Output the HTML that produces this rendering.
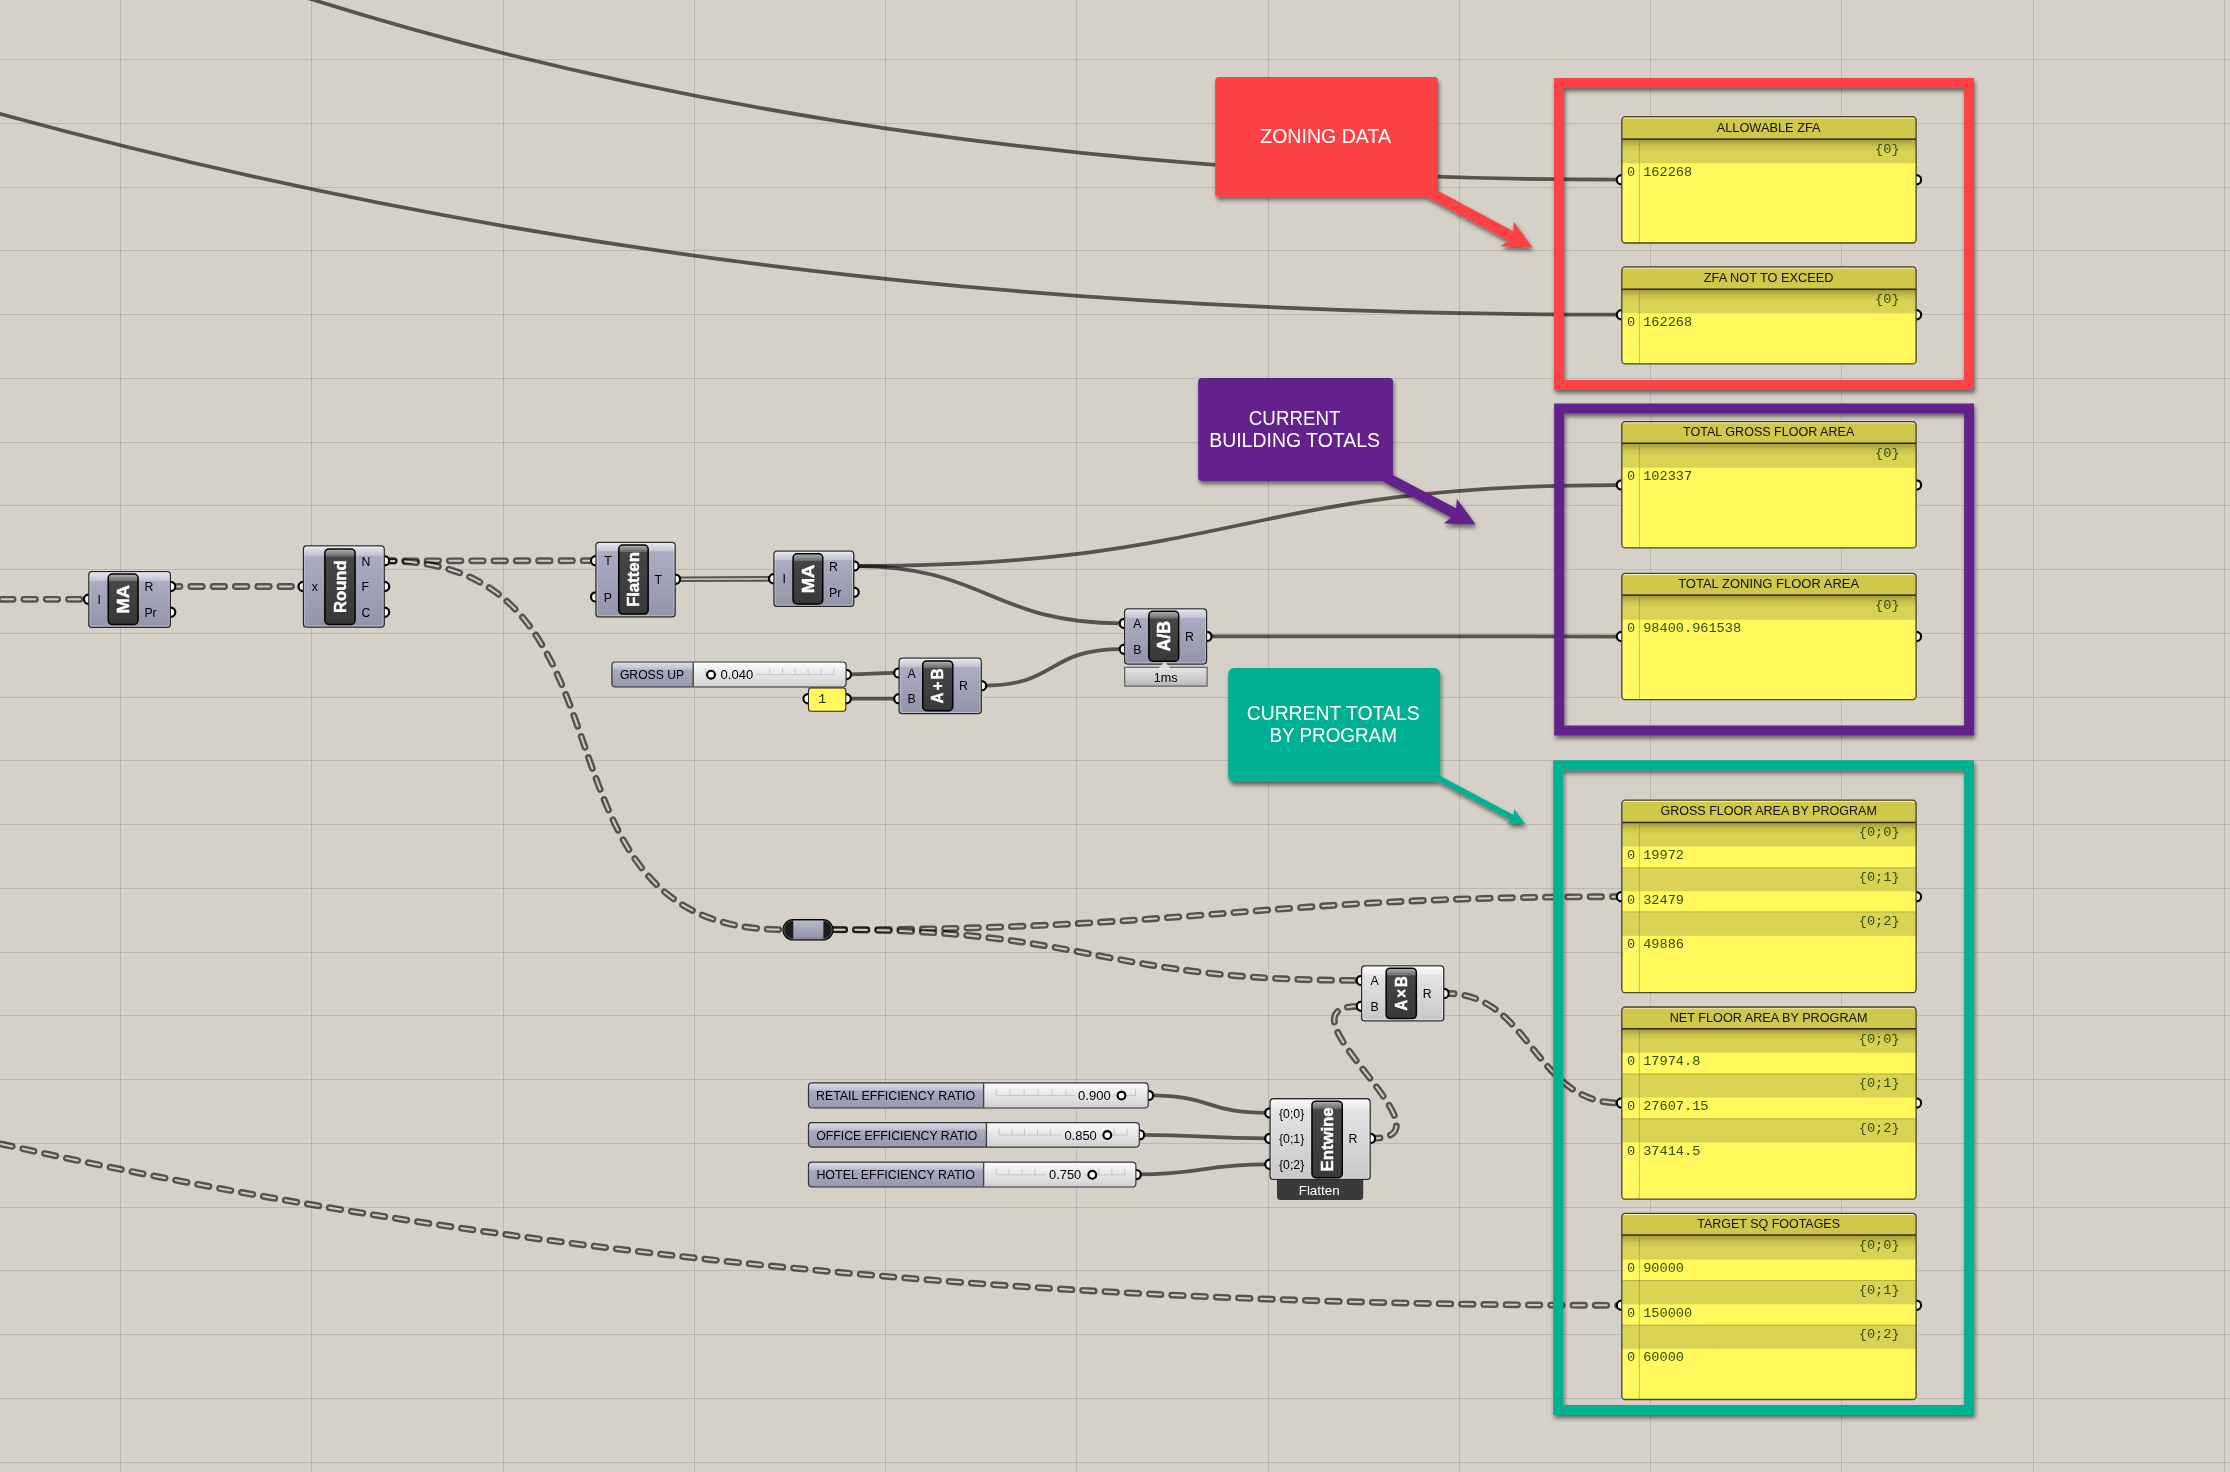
<!DOCTYPE html>
<html lang="en"><head><meta charset="utf-8"><title>Grasshopper canvas</title>
<style>
html,body{margin:0;padding:0;background:#d5d1c9;}
body{width:2230px;height:1472px;overflow:hidden;}
svg{display:block;will-change:transform;}
text{white-space:pre;}
</style></head><body>
<svg width="2230" height="1472" viewBox="0 0 2230 1472">
<defs>
<linearGradient id="gDark" x1="0" y1="0" x2="0" y2="1">
 <stop offset="0" stop-color="#e9e9f0"/><stop offset="0.16" stop-color="#c3c3d3"/>
 <stop offset="0.17" stop-color="#ababc1"/><stop offset="1" stop-color="#9393a9"/>
</linearGradient>
<linearGradient id="gDarkTall" x1="0" y1="0" x2="0" y2="1">
 <stop offset="0" stop-color="#e9e9f0"/><stop offset="0.115" stop-color="#c3c3d3"/>
 <stop offset="0.125" stop-color="#ababc1"/><stop offset="1" stop-color="#9393a9"/>
</linearGradient>
<linearGradient id="gLight" x1="0" y1="0" x2="0" y2="1">
 <stop offset="0" stop-color="#fbfbfb"/><stop offset="0.16" stop-color="#ececec"/>
 <stop offset="0.17" stop-color="#e3e3e3"/><stop offset="1" stop-color="#c8c8c8"/>
</linearGradient>
<linearGradient id="gLightTall" x1="0" y1="0" x2="0" y2="1">
 <stop offset="0" stop-color="#fbfbfb"/><stop offset="0.115" stop-color="#ececec"/>
 <stop offset="0.125" stop-color="#e3e3e3"/><stop offset="1" stop-color="#c8c8c8"/>
</linearGradient>
<linearGradient id="gCap" x1="0" y1="0" x2="0" y2="1">
 <stop offset="0" stop-color="#b4b4b4"/><stop offset="0.14" stop-color="#6a6a6a"/>
 <stop offset="0.15" stop-color="#464646"/><stop offset="1" stop-color="#383838"/>
</linearGradient>
<linearGradient id="gCapTall" x1="0" y1="0" x2="0" y2="1">
 <stop offset="0" stop-color="#b4b4b4"/><stop offset="0.095" stop-color="#6a6a6a"/>
 <stop offset="0.105" stop-color="#464646"/><stop offset="1" stop-color="#383838"/>
</linearGradient>
<linearGradient id="gSlName" x1="0" y1="0" x2="0" y2="1">
 <stop offset="0" stop-color="#e4e4ec"/><stop offset="0.3" stop-color="#bdbdce"/>
 <stop offset="0.32" stop-color="#a9a9bf"/><stop offset="1" stop-color="#9696ac"/>
</linearGradient>
<linearGradient id="gSlTrack" x1="0" y1="0" x2="0" y2="1">
 <stop offset="0" stop-color="#fdfdfd"/><stop offset="0.3" stop-color="#efefef"/>
 <stop offset="1" stop-color="#cfcfcf"/>
</linearGradient>
<linearGradient id="gTag" x1="0" y1="0" x2="0" y2="1">
 <stop offset="0" stop-color="#e6e6e6"/><stop offset="1" stop-color="#b9b9b9"/>
</linearGradient>
<linearGradient id="gPHead" x1="0" y1="0" x2="0" y2="1">
 <stop offset="0" stop-color="#9f9a3a"/><stop offset="0.28" stop-color="#c9c34b"/>
 <stop offset="0.5" stop-color="#d8d352"/><stop offset="1" stop-color="#d8d352"/>
</linearGradient>
<linearGradient id="gRelay" x1="0" y1="0" x2="0" y2="1">
 <stop offset="0" stop-color="#b9b9cb"/><stop offset="1" stop-color="#8f8fa6"/>
</linearGradient>

<clipPath id="clipS9128"><rect x="611.9" y="662" width="234.2" height="25" rx="3.5"/></clipPath>
<clipPath id="clipS12570"><rect x="808.5" y="1082.8" width="339.7" height="25.2" rx="3.5"/></clipPath>
<clipPath id="clipS12521"><rect x="808.5" y="1122.6" width="330.8" height="24.5" rx="3.5"/></clipPath>
<clipPath id="clipS12526"><rect x="808.5" y="1162.2" width="327.4" height="24.8" rx="3.5"/></clipPath>
<clipPath id="clipP116"><rect x="1621.8" y="116.7" width="294.3" height="126.3" rx="3.5"/></clipPath>
<clipPath id="clipP266"><rect x="1621.8" y="266.9" width="294.3" height="97" rx="3.5"/></clipPath>
<clipPath id="clipP421"><rect x="1621.8" y="421.6" width="294.3" height="126.3" rx="3.5"/></clipPath>
<clipPath id="clipP572"><rect x="1621.8" y="573.3" width="294.3" height="126.3" rx="3.5"/></clipPath>
<clipPath id="clipP799"><rect x="1621.8" y="800.2" width="294.3" height="192.5" rx="3.5"/></clipPath>
<clipPath id="clipP1006"><rect x="1621.8" y="1007" width="294.3" height="192.2" rx="3.5"/></clipPath>
<clipPath id="clipP1212"><rect x="1621.8" y="1213.3" width="294.3" height="186.2" rx="3.5"/></clipPath>
<filter id="ds" x="-5%" y="-5%" width="110%" height="110%"><feDropShadow dx="1.2" dy="3.2" stdDeviation="2.2" flood-color="#000" flood-opacity="0.52"/></filter></defs>
<rect width="2230" height="1472" fill="#d5d1c9"/>
<g stroke="rgba(0,0,0,0.118)" stroke-width="1" shape-rendering="crispEdges">
<line x1="120.5" y1="0" x2="120.5" y2="1472"/>
<line x1="311.76" y1="0" x2="311.76" y2="1472"/>
<line x1="503.02" y1="0" x2="503.02" y2="1472"/>
<line x1="694.28" y1="0" x2="694.28" y2="1472"/>
<line x1="885.54" y1="0" x2="885.54" y2="1472"/>
<line x1="1076.8" y1="0" x2="1076.8" y2="1472"/>
<line x1="1268.06" y1="0" x2="1268.06" y2="1472"/>
<line x1="1459.32" y1="0" x2="1459.32" y2="1472"/>
<line x1="1650.58" y1="0" x2="1650.58" y2="1472"/>
<line x1="1841.84" y1="0" x2="1841.84" y2="1472"/>
<line x1="2033.1" y1="0" x2="2033.1" y2="1472"/>
<line x1="2224.36" y1="0" x2="2224.36" y2="1472"/>
<line x1="0" y1="59.5" x2="2230" y2="59.5"/>
<line x1="0" y1="123.25" x2="2230" y2="123.25"/>
<line x1="0" y1="187.01" x2="2230" y2="187.01"/>
<line x1="0" y1="250.76" x2="2230" y2="250.76"/>
<line x1="0" y1="314.52" x2="2230" y2="314.52"/>
<line x1="0" y1="378.27" x2="2230" y2="378.27"/>
<line x1="0" y1="442.03" x2="2230" y2="442.03"/>
<line x1="0" y1="505.78" x2="2230" y2="505.78"/>
<line x1="0" y1="569.54" x2="2230" y2="569.54"/>
<line x1="0" y1="633.29" x2="2230" y2="633.29"/>
<line x1="0" y1="697.05" x2="2230" y2="697.05"/>
<line x1="0" y1="760.8" x2="2230" y2="760.8"/>
<line x1="0" y1="824.56" x2="2230" y2="824.56"/>
<line x1="0" y1="888.31" x2="2230" y2="888.31"/>
<line x1="0" y1="952.07" x2="2230" y2="952.07"/>
<line x1="0" y1="1015.82" x2="2230" y2="1015.82"/>
<line x1="0" y1="1079.58" x2="2230" y2="1079.58"/>
<line x1="0" y1="1143.34" x2="2230" y2="1143.34"/>
<line x1="0" y1="1207.09" x2="2230" y2="1207.09"/>
<line x1="0" y1="1270.85" x2="2230" y2="1270.85"/>
<line x1="0" y1="1334.6" x2="2230" y2="1334.6"/>
<line x1="0" y1="1398.36" x2="2230" y2="1398.36"/>
<line x1="0" y1="1462.11" x2="2230" y2="1462.11"/>
</g>
<g fill="none" stroke-linecap="butt">
<path d="M195.2 -40 C572 95.9 1054.4 179.7 1619 179.7" stroke="rgba(0,0,0,0.60)" stroke-width="3.75"/>
<path d="M-58.8 97.4 C539 268.2 1091.7 314.7 1619 314.7" stroke="rgba(0,0,0,0.60)" stroke-width="3.75"/>
<path d="M856 566 C1235.3 566 1239.7 485 1619 485" stroke="rgba(0,0,0,0.60)" stroke-width="3.75"/>
<path d="M856 566 C984.6 566 992.9 623.4 1121.5 623.4" stroke="rgba(0,0,0,0.60)" stroke-width="3.75"/>
<path d="M848 674.4 C872.26 674.4 872.24 672.9 896.5 672.9" stroke="rgba(0,0,0,0.60)" stroke-width="3.75"/>
<path d="M847 698.7 L896.5 698.7" stroke="rgba(0,0,0,0.60)" stroke-width="3.75"/>
<path d="M983 685.7 C1059 685.7 1045.5 649.2 1121.5 649.2" stroke="rgba(0,0,0,0.60)" stroke-width="3.75"/>
<path d="M1209 636.4 L1619 636.5" stroke="rgba(0,0,0,0.60)" stroke-width="3.75"/>
<path d="M1150 1095.4 C1212 1095.4 1205.5 1112.9 1267.5 1112.9" stroke="rgba(0,0,0,0.60)" stroke-width="3.75"/>
<path d="M1141 1134.8 C1204.28 1134.8 1204.22 1138.4 1267.5 1138.4" stroke="rgba(0,0,0,0.60)" stroke-width="3.75"/>
<path d="M1138 1174.3 C1202.94 1174.3 1202.56 1164.3 1267.5 1164.3" stroke="rgba(0,0,0,0.60)" stroke-width="3.75"/>
<path d="M677 579.2 L772 578.8" stroke="#57554f" stroke-width="5.6"/>
<path d="M677 579.2 L772 578.8" stroke="#c9c5bd" stroke-width="1.6"/>
</g>
<g fill="none" stroke-linecap="round" stroke-dasharray="11.5 10.8">
<path d="M-17.2 599.3 L86 599.3" stroke="rgba(0,0,0,0.60)" stroke-width="6.8" stroke-dashoffset="3.5"/>
<path d="M-17.2 599.3 L86 599.3" stroke="#cfcbc3" stroke-width="2" stroke-dashoffset="3.5"/>
<path d="M172 586.5 L301 586.5" stroke="rgba(0,0,0,0.60)" stroke-width="6.8" stroke-dashoffset="3.5"/>
<path d="M172 586.5 L301 586.5" stroke="#cfcbc3" stroke-width="2" stroke-dashoffset="3.5"/>
<path d="M386 560.9 L593 560.7" stroke="rgba(0,0,0,0.60)" stroke-width="6.8" stroke-dashoffset="3.5"/>
<path d="M386 560.9 L593 560.7" stroke="#cfcbc3" stroke-width="2" stroke-dashoffset="3.5"/>
<path d="M386 560.9 C654.7 560.9 513.8 929.6 782.5 929.6" stroke="rgba(0,0,0,0.60)" stroke-width="6.8" stroke-dashoffset="3.5"/>
<path d="M386 560.9 C654.7 560.9 513.8 929.6 782.5 929.6" stroke="#cfcbc3" stroke-width="2" stroke-dashoffset="3.5"/>
<path d="M833 929.7 C1198 929.7 1254 896.7 1619 896.7" stroke="rgba(0,0,0,0.60)" stroke-width="6.8" stroke-dashoffset="0"/>
<path d="M833 929.7 C1198 929.7 1254 896.7 1619 896.7" stroke="#cfcbc3" stroke-width="2" stroke-dashoffset="0"/>
<path d="M833 929.7 C1093.3 929.7 1098.4 980.4 1358.7 980.4" stroke="rgba(0,0,0,0.60)" stroke-width="6.8" stroke-dashoffset="0"/>
<path d="M833 929.7 C1093.3 929.7 1098.4 980.4 1358.7 980.4" stroke="#cfcbc3" stroke-width="2" stroke-dashoffset="0"/>
<path d="M1372 1138.4 C1461.7 1138.4 1269 1006.3 1358.7 1006.3" stroke="rgba(0,0,0,0.60)" stroke-width="6.8" stroke-dashoffset="3.5"/>
<path d="M1372 1138.4 C1461.7 1138.4 1269 1006.3 1358.7 1006.3" stroke="#cfcbc3" stroke-width="2" stroke-dashoffset="3.5"/>
<path d="M1446 993.4 C1531 993.4 1534 1103 1619 1103" stroke="rgba(0,0,0,0.60)" stroke-width="6.8" stroke-dashoffset="3.5"/>
<path d="M1446 993.4 C1531 993.4 1534 1103 1619 1103" stroke="#cfcbc3" stroke-width="2" stroke-dashoffset="3.5"/>
<path d="M-65.8 1128.6 C505 1263 1072.8 1305.3 1619 1305.3" stroke="rgba(0,0,0,0.60)" stroke-width="6.8" stroke-dashoffset="20.7"/>
<path d="M-65.8 1128.6 C505 1263 1072.8 1305.3 1619 1305.3" stroke="#cfcbc3" stroke-width="2" stroke-dashoffset="20.7"/>
</g>
<circle cx="88.5" cy="599.3" r="4.6" fill="#fff" stroke="#000" stroke-width="2.2"/>
<circle cx="170.7" cy="586.5" r="4.6" fill="#fff" stroke="#000" stroke-width="2.2"/>
<circle cx="170.7" cy="612.3" r="4.6" fill="#fff" stroke="#000" stroke-width="2.2"/>
<rect x="88.85" y="571.65" width="81.5" height="55.7" rx="3.2" fill="url(#gDark)" stroke="#2a2a2a" stroke-width="1.3"/>
<rect x="90" y="572.8" width="79.2" height="53.4" rx="2.2" fill="none" stroke="rgba(255,255,255,0.35)" stroke-width="1"/>
<rect x="108.25" y="574.05" width="29.8" height="50.4" rx="4" fill="url(#gCap)" stroke="#000" stroke-width="1.5"/>
<text transform="translate(128.76 599.25) rotate(-90) scale(1 1)" text-anchor="middle" font-family='"Liberation Sans", Arial, sans-serif' font-weight="700" font-size="17" fill="#fff" stroke="#fff" stroke-width="0.45" textLength="28.6" lengthAdjust="spacingAndGlyphs">MA</text>
<text transform="translate(99.15 604.05) scale(0.92 1)" text-anchor="middle" font-family='"Liberation Sans", Arial, sans-serif' font-size="13.4" fill="#000">I</text>
<text transform="translate(144.4 591.25) scale(0.92 1)" font-family='"Liberation Sans", Arial, sans-serif' font-size="13.4" fill="#000">R</text>
<text transform="translate(144.4 617.05) scale(0.92 1)" font-family='"Liberation Sans", Arial, sans-serif' font-size="13.4" fill="#000">Pr</text>
<circle cx="303.1" cy="586.5" r="4.6" fill="#fff" stroke="#000" stroke-width="2.2"/>
<circle cx="384.6" cy="560.8" r="4.6" fill="#fff" stroke="#000" stroke-width="2.2"/>
<circle cx="384.6" cy="586.5" r="4.6" fill="#fff" stroke="#000" stroke-width="2.2"/>
<circle cx="384.6" cy="612.3" r="4.6" fill="#fff" stroke="#000" stroke-width="2.2"/>
<rect x="303.45" y="545.95" width="80.8" height="81.2" rx="3.2" fill="url(#gDarkTall)" stroke="#2a2a2a" stroke-width="1.3"/>
<rect x="304.6" y="547.1" width="78.5" height="78.9" rx="2.2" fill="none" stroke="rgba(255,255,255,0.35)" stroke-width="1"/>
<rect x="324.85" y="548.95" width="30.2" height="75.5" rx="4" fill="url(#gCapTall)" stroke="#000" stroke-width="1.5"/>
<text transform="translate(345.56 586.7) rotate(-90) scale(1 1)" text-anchor="middle" font-family='"Liberation Sans", Arial, sans-serif' font-weight="700" font-size="17" fill="#fff" stroke="#fff" stroke-width="0.45" textLength="52.4" lengthAdjust="spacingAndGlyphs">Round</text>
<text transform="translate(314.75 591.25) scale(0.92 1)" text-anchor="middle" font-family='"Liberation Sans", Arial, sans-serif' font-size="13.4" fill="#000">x</text>
<text transform="translate(361.4 565.55) scale(0.92 1)" font-family='"Liberation Sans", Arial, sans-serif' font-size="13.4" fill="#000">N</text>
<text transform="translate(361.4 591.25) scale(0.92 1)" font-family='"Liberation Sans", Arial, sans-serif' font-size="13.4" fill="#000">F</text>
<text transform="translate(361.4 617.05) scale(0.92 1)" font-family='"Liberation Sans", Arial, sans-serif' font-size="13.4" fill="#000">C</text>
<circle cx="595.6" cy="560.7" r="4.6" fill="#fff" stroke="#000" stroke-width="2.2"/>
<circle cx="595.6" cy="596.9" r="4.6" fill="#fff" stroke="#000" stroke-width="2.2"/>
<circle cx="675.5" cy="579.3" r="4.6" fill="#fff" stroke="#000" stroke-width="2.2"/>
<rect x="595.95" y="542.45" width="79.2" height="74.4" rx="3.2" fill="url(#gDarkTall)" stroke="#2a2a2a" stroke-width="1.3"/>
<rect x="597.1" y="543.6" width="76.9" height="72.1" rx="2.2" fill="none" stroke="rgba(255,255,255,0.35)" stroke-width="1"/>
<rect x="618.75" y="545.05" width="29.4" height="69" rx="4" fill="url(#gCapTall)" stroke="#000" stroke-width="1.5"/>
<text transform="translate(639.06 579.55) rotate(-90) scale(1 1)" text-anchor="middle" font-family='"Liberation Sans", Arial, sans-serif' font-weight="700" font-size="17" fill="#fff" stroke="#fff" stroke-width="0.45" textLength="55" lengthAdjust="spacingAndGlyphs">Flatten</text>
<text transform="translate(607.95 565.45) scale(0.92 1)" text-anchor="middle" font-family='"Liberation Sans", Arial, sans-serif' font-size="13.4" fill="#000">T</text>
<text transform="translate(607.95 601.65) scale(0.92 1)" text-anchor="middle" font-family='"Liberation Sans", Arial, sans-serif' font-size="13.4" fill="#000">P</text>
<text transform="translate(654.5 584.05) scale(0.92 1)" font-family='"Liberation Sans", Arial, sans-serif' font-size="13.4" fill="#000">T</text>
<circle cx="773.6" cy="578.7" r="4.6" fill="#fff" stroke="#000" stroke-width="2.2"/>
<circle cx="854.1" cy="566" r="4.6" fill="#fff" stroke="#000" stroke-width="2.2"/>
<circle cx="854.1" cy="592.2" r="4.6" fill="#fff" stroke="#000" stroke-width="2.2"/>
<rect x="773.95" y="551.05" width="79.8" height="55.3" rx="3.2" fill="url(#gDark)" stroke="#2a2a2a" stroke-width="1.3"/>
<rect x="775.1" y="552.2" width="77.5" height="53" rx="2.2" fill="none" stroke="rgba(255,255,255,0.35)" stroke-width="1"/>
<rect x="793.05" y="553.85" width="29.7" height="50.1" rx="4" fill="url(#gCap)" stroke="#000" stroke-width="1.5"/>
<text transform="translate(813.51 578.9) rotate(-90) scale(1 1)" text-anchor="middle" font-family='"Liberation Sans", Arial, sans-serif' font-weight="700" font-size="17" fill="#fff" stroke="#fff" stroke-width="0.45" textLength="28.6" lengthAdjust="spacingAndGlyphs">MA</text>
<text transform="translate(784.1 583.45) scale(0.92 1)" text-anchor="middle" font-family='"Liberation Sans", Arial, sans-serif' font-size="13.4" fill="#000">I</text>
<text transform="translate(829.1 570.75) scale(0.92 1)" font-family='"Liberation Sans", Arial, sans-serif' font-size="13.4" fill="#000">R</text>
<text transform="translate(829.1 596.95) scale(0.92 1)" font-family='"Liberation Sans", Arial, sans-serif' font-size="13.4" fill="#000">Pr</text>
<circle cx="898.8" cy="672.9" r="4.6" fill="#fff" stroke="#000" stroke-width="2.2"/>
<circle cx="898.8" cy="698.7" r="4.6" fill="#fff" stroke="#000" stroke-width="2.2"/>
<circle cx="981.6" cy="685.7" r="4.6" fill="#fff" stroke="#000" stroke-width="2.2"/>
<rect x="899.15" y="658.05" width="82.1" height="55.6" rx="3.2" fill="url(#gDark)" stroke="#2a2a2a" stroke-width="1.3"/>
<rect x="900.3" y="659.2" width="79.8" height="53.3" rx="2.2" fill="none" stroke="rgba(255,255,255,0.35)" stroke-width="1"/>
<rect x="922.75" y="660.95" width="30" height="49.8" rx="4" fill="url(#gCap)" stroke="#000" stroke-width="1.5"/>
<text transform="translate(943.2 685.85) rotate(-90) scale(0.9 1)" text-anchor="middle" font-family='"Liberation Sans", Arial, sans-serif' font-weight="700" font-size="16.5" fill="#fff" stroke="#fff" stroke-width="0.45" textLength="38.44" lengthAdjust="spacing">A+B</text>
<text transform="translate(911.55 677.65) scale(0.92 1)" text-anchor="middle" font-family='"Liberation Sans", Arial, sans-serif' font-size="13.4" fill="#000">A</text>
<text transform="translate(911.55 703.45) scale(0.92 1)" text-anchor="middle" font-family='"Liberation Sans", Arial, sans-serif' font-size="13.4" fill="#000">B</text>
<text transform="translate(959.1 690.45) scale(0.92 1)" font-family='"Liberation Sans", Arial, sans-serif' font-size="13.4" fill="#000">R</text>
<circle cx="1124.3" cy="623.4" r="4.6" fill="#fff" stroke="#000" stroke-width="2.2"/>
<circle cx="1124.3" cy="649.2" r="4.6" fill="#fff" stroke="#000" stroke-width="2.2"/>
<circle cx="1206.9" cy="636.4" r="4.6" fill="#fff" stroke="#000" stroke-width="2.2"/>
<rect x="1124.65" y="608.85" width="81.9" height="55.2" rx="3.2" fill="url(#gDark)" stroke="#2a2a2a" stroke-width="1.3"/>
<rect x="1125.8" y="610" width="79.6" height="52.9" rx="2.2" fill="none" stroke="rgba(255,255,255,0.35)" stroke-width="1"/>
<rect x="1148.85" y="611.35" width="29.8" height="49.9" rx="4" fill="url(#gCap)" stroke="#000" stroke-width="1.5"/>
<text transform="translate(1169.53 636.3) rotate(-90) scale(1 1)" text-anchor="middle" font-family='"Liberation Sans", Arial, sans-serif' font-weight="700" font-size="17.5" fill="#fff" stroke="#fff" stroke-width="0.45" textLength="30.6" lengthAdjust="spacingAndGlyphs">A/B</text>
<text transform="translate(1137.35 628.15) scale(0.92 1)" text-anchor="middle" font-family='"Liberation Sans", Arial, sans-serif' font-size="13.4" fill="#000">A</text>
<text transform="translate(1137.35 653.95) scale(0.92 1)" text-anchor="middle" font-family='"Liberation Sans", Arial, sans-serif' font-size="13.4" fill="#000">B</text>
<text transform="translate(1185 641.15) scale(0.92 1)" font-family='"Liberation Sans", Arial, sans-serif' font-size="13.4" fill="#000">R</text>
<circle cx="1361.3" cy="980.4" r="4.6" fill="#fff" stroke="#000" stroke-width="2.2"/>
<circle cx="1361.3" cy="1006.3" r="4.6" fill="#fff" stroke="#000" stroke-width="2.2"/>
<circle cx="1444.1" cy="993.4" r="4.6" fill="#fff" stroke="#000" stroke-width="2.2"/>
<rect x="1361.65" y="965.85" width="82.1" height="55.1" rx="3.2" fill="url(#gLight)" stroke="#2a2a2a" stroke-width="1.3"/>
<rect x="1362.8" y="967" width="79.8" height="52.8" rx="2.2" fill="none" stroke="rgba(255,255,255,0.35)" stroke-width="1"/>
<rect x="1386.15" y="968.15" width="30.2" height="50.4" rx="4" fill="url(#gCap)" stroke="#000" stroke-width="1.5"/>
<text transform="translate(1406.69 993.35) rotate(-90) scale(0.9 1)" text-anchor="middle" font-family='"Liberation Sans", Arial, sans-serif' font-weight="700" font-size="16.5" fill="#fff" stroke="#fff" stroke-width="0.45" textLength="38" lengthAdjust="spacing">A&#215;B</text>
<text transform="translate(1374.5 985.15) scale(0.92 1)" text-anchor="middle" font-family='"Liberation Sans", Arial, sans-serif' font-size="13.4" fill="#000">A</text>
<text transform="translate(1374.5 1011.05) scale(0.92 1)" text-anchor="middle" font-family='"Liberation Sans", Arial, sans-serif' font-size="13.4" fill="#000">B</text>
<text transform="translate(1422.7 998.15) scale(0.92 1)" font-family='"Liberation Sans", Arial, sans-serif' font-size="13.4" fill="#000">R</text>
<circle cx="1269.8" cy="1112.9" r="4.6" fill="#fff" stroke="#000" stroke-width="2.2"/>
<circle cx="1269.8" cy="1138.4" r="4.6" fill="#fff" stroke="#000" stroke-width="2.2"/>
<circle cx="1269.8" cy="1164.3" r="4.6" fill="#fff" stroke="#000" stroke-width="2.2"/>
<circle cx="1370.5" cy="1138.4" r="4.6" fill="#fff" stroke="#000" stroke-width="2.2"/>
<rect x="1270.15" y="1098.75" width="100" height="80.7" rx="3.2" fill="url(#gLightTall)" stroke="#2a2a2a" stroke-width="1.3"/>
<rect x="1271.3" y="1099.9" width="97.7" height="78.4" rx="2.2" fill="none" stroke="rgba(255,255,255,0.35)" stroke-width="1"/>
<rect x="1311.95" y="1101.15" width="30.3" height="76.5" rx="4" fill="url(#gCapTall)" stroke="#000" stroke-width="1.5"/>
<text transform="translate(1332.71 1139.4) rotate(-90) scale(1 1)" text-anchor="middle" font-family='"Liberation Sans", Arial, sans-serif' font-weight="700" font-size="17" fill="#fff" stroke="#fff" stroke-width="0.45" textLength="64" lengthAdjust="spacingAndGlyphs">Entwine</text>
<text transform="translate(1291.65 1117.65) scale(0.92 1)" text-anchor="middle" font-family='"Liberation Sans", Arial, sans-serif' font-size="13.4" fill="#000">{0;0}</text>
<text transform="translate(1291.65 1143.15) scale(0.92 1)" text-anchor="middle" font-family='"Liberation Sans", Arial, sans-serif' font-size="13.4" fill="#000">{0;1}</text>
<text transform="translate(1291.65 1169.05) scale(0.92 1)" text-anchor="middle" font-family='"Liberation Sans", Arial, sans-serif' font-size="13.4" fill="#000">{0;2}</text>
<text transform="translate(1348.6 1143.15) scale(0.92 1)" font-family='"Liberation Sans", Arial, sans-serif' font-size="13.4" fill="#000">R</text>
<rect x="1124.7" y="667.3" width="82.4" height="18.8" fill="url(#gTag)" stroke="#555" stroke-width="1.1"/>
<polygon points="1158.8,668 1164.6,661.8 1170.6,668" fill="#dadada"/>
<text x="1165.7" y="681.6" text-anchor="middle" font-family='"Liberation Sans", Arial, sans-serif' font-size="13.4" fill="#000" textLength="23.8" lengthAdjust="spacingAndGlyphs">1ms</text>
<path d="M1277 1180.1H1363.2V1196.4a3.5 3.5 0 0 1 -3.5 3.5H1280.5a3.5 3.5 0 0 1 -3.5 -3.5Z" fill="#3a3a3a"/>
<text x="1319.2" y="1194.6" text-anchor="middle" font-family='"Liberation Sans", Arial, sans-serif' font-size="13.6" fill="#fff" textLength="41" lengthAdjust="spacingAndGlyphs">Flatten</text>
<rect x="783" y="919.6" width="50" height="20.4" rx="10.2" fill="#1c1c1c" stroke="#000" stroke-width="1.2"/>
<rect x="793.3" y="920.8" width="30.1" height="18" fill="url(#gRelay)"/>
<rect x="783.9" y="920.5" width="48.2" height="18.6" rx="9.3" fill="none" stroke="rgba(255,255,255,0.35)" stroke-width="0.8"/>
<circle cx="846.4" cy="674.5" r="4.6" fill="#fff" stroke="#000" stroke-width="2.2"/>
<g clip-path="url(#clipS9128)">
<rect x="611.3" y="661.4" width="81.9" height="26.2" fill="url(#gSlName)"/>
<rect x="693.2" y="661.4" width="153.5" height="26.2" fill="url(#gSlTrack)"/>
</g>
<line x1="693.2" y1="662.4" x2="693.2" y2="686.6" stroke="#444" stroke-width="1.4"/>
<rect x="611.9" y="662" width="234.2" height="25" rx="3.5" fill="none" stroke="#333" stroke-width="1.2"/>
<g stroke="#c3c3c3" stroke-width="1" fill="none">
<line x1="705.5" y1="674.7" x2="717.6" y2="674.7"/>
<line x1="756.2" y1="674.7" x2="833.8" y2="674.7"/>
<line x1="705.5" y1="668.5" x2="705.5" y2="674.7"/>
<line x1="769.65" y1="668.5" x2="769.65" y2="674.7"/>
<line x1="782.48" y1="668.5" x2="782.48" y2="674.7"/>
<line x1="795.31" y1="668.5" x2="795.31" y2="674.7"/>
<line x1="808.14" y1="668.5" x2="808.14" y2="674.7"/>
<line x1="820.97" y1="668.5" x2="820.97" y2="674.7"/>
<line x1="833.8" y1="668.5" x2="833.8" y2="674.7"/>
</g>
<text x="720.6" y="679.3" font-family='"Liberation Sans", Arial, sans-serif' font-size="13.4" fill="#000" textLength="32.6" lengthAdjust="spacingAndGlyphs">0.040</text>
<circle cx="711" cy="674.7" r="3.9" fill="#fff" stroke="#000" stroke-width="2.1"/>
<text x="619.9" y="679.3" font-family='"Liberation Sans", Arial, sans-serif' font-size="13.4" fill="#000" textLength="64.2" lengthAdjust="spacingAndGlyphs">GROSS UP</text>
<circle cx="1148.5" cy="1095.4" r="4.6" fill="#fff" stroke="#000" stroke-width="2.2"/>
<g clip-path="url(#clipS12570)">
<rect x="807.9" y="1082.2" width="175.7" height="26.4" fill="url(#gSlName)"/>
<rect x="983.6" y="1082.2" width="165.2" height="26.4" fill="url(#gSlTrack)"/>
</g>
<line x1="983.6" y1="1083.2" x2="983.6" y2="1107.6" stroke="#444" stroke-width="1.4"/>
<rect x="808.5" y="1082.8" width="339.7" height="25.2" rx="3.5" fill="none" stroke="#333" stroke-width="1.2"/>
<g stroke="#c3c3c3" stroke-width="1" fill="none">
<line x1="996.2" y1="1095.6" x2="1075.1" y2="1095.6"/>
<line x1="1113.7" y1="1095.6" x2="1135.6" y2="1095.6"/>
<line x1="996.2" y1="1089.4" x2="996.2" y2="1095.6"/>
<line x1="1010.14" y1="1089.4" x2="1010.14" y2="1095.6"/>
<line x1="1024.08" y1="1089.4" x2="1024.08" y2="1095.6"/>
<line x1="1038.02" y1="1089.4" x2="1038.02" y2="1095.6"/>
<line x1="1051.96" y1="1089.4" x2="1051.96" y2="1095.6"/>
<line x1="1065.9" y1="1089.4" x2="1065.9" y2="1095.6"/>
<line x1="1121.66" y1="1089.4" x2="1121.66" y2="1095.6"/>
<line x1="1135.6" y1="1089.4" x2="1135.6" y2="1095.6"/>
</g>
<text x="1078.1" y="1100.2" font-family='"Liberation Sans", Arial, sans-serif' font-size="13.4" fill="#000" textLength="32.6" lengthAdjust="spacingAndGlyphs">0.900</text>
<circle cx="1121.5" cy="1095.6" r="3.9" fill="#fff" stroke="#000" stroke-width="2.1"/>
<text x="816" y="1100.2" font-family='"Liberation Sans", Arial, sans-serif' font-size="13.4" fill="#000" textLength="159.1" lengthAdjust="spacingAndGlyphs">RETAIL EFFICIENCY RATIO</text>
<circle cx="1139.6" cy="1134.85" r="4.6" fill="#fff" stroke="#000" stroke-width="2.2"/>
<g clip-path="url(#clipS12521)">
<rect x="807.9" y="1122" width="178.5" height="25.7" fill="url(#gSlName)"/>
<rect x="986.4" y="1122" width="153.5" height="25.7" fill="url(#gSlTrack)"/>
</g>
<line x1="986.4" y1="1123" x2="986.4" y2="1146.7" stroke="#444" stroke-width="1.4"/>
<rect x="808.5" y="1122.6" width="330.8" height="24.5" rx="3.5" fill="none" stroke="#333" stroke-width="1.2"/>
<g stroke="#c3c3c3" stroke-width="1" fill="none">
<line x1="999" y1="1135.05" x2="1061.4" y2="1135.05"/>
<line x1="1099.8" y1="1135.05" x2="1127.1" y2="1135.05"/>
<line x1="999" y1="1128.85" x2="999" y2="1135.05"/>
<line x1="1011.81" y1="1128.85" x2="1011.81" y2="1135.05"/>
<line x1="1024.62" y1="1128.85" x2="1024.62" y2="1135.05"/>
<line x1="1037.43" y1="1128.85" x2="1037.43" y2="1135.05"/>
<line x1="1050.24" y1="1128.85" x2="1050.24" y2="1135.05"/>
<line x1="1114.29" y1="1128.85" x2="1114.29" y2="1135.05"/>
<line x1="1127.1" y1="1128.85" x2="1127.1" y2="1135.05"/>
</g>
<text x="1064.4" y="1139.65" font-family='"Liberation Sans", Arial, sans-serif' font-size="13.4" fill="#000" textLength="32.4" lengthAdjust="spacingAndGlyphs">0.850</text>
<circle cx="1107.3" cy="1135.05" r="3.9" fill="#fff" stroke="#000" stroke-width="2.1"/>
<text x="816.2" y="1139.65" font-family='"Liberation Sans", Arial, sans-serif' font-size="13.4" fill="#000" textLength="161.2" lengthAdjust="spacingAndGlyphs">OFFICE EFFICIENCY RATIO</text>
<circle cx="1136.2" cy="1174.6" r="4.6" fill="#fff" stroke="#000" stroke-width="2.2"/>
<g clip-path="url(#clipS12526)">
<rect x="807.9" y="1161.6" width="175.7" height="26" fill="url(#gSlName)"/>
<rect x="983.6" y="1161.6" width="152.9" height="26" fill="url(#gSlTrack)"/>
</g>
<line x1="983.6" y1="1162.6" x2="983.6" y2="1186.6" stroke="#444" stroke-width="1.4"/>
<rect x="808.5" y="1162.2" width="327.4" height="24.8" rx="3.5" fill="none" stroke="#333" stroke-width="1.2"/>
<g stroke="#c3c3c3" stroke-width="1" fill="none">
<line x1="996.2" y1="1174.8" x2="1046" y2="1174.8"/>
<line x1="1084.2" y1="1174.8" x2="1124.8" y2="1174.8"/>
<line x1="996.2" y1="1168.6" x2="996.2" y2="1174.8"/>
<line x1="1009.06" y1="1168.6" x2="1009.06" y2="1174.8"/>
<line x1="1021.92" y1="1168.6" x2="1021.92" y2="1174.8"/>
<line x1="1034.78" y1="1168.6" x2="1034.78" y2="1174.8"/>
<line x1="1099.08" y1="1168.6" x2="1099.08" y2="1174.8"/>
<line x1="1111.94" y1="1168.6" x2="1111.94" y2="1174.8"/>
<line x1="1124.8" y1="1168.6" x2="1124.8" y2="1174.8"/>
</g>
<text x="1049" y="1179.4" font-family='"Liberation Sans", Arial, sans-serif' font-size="13.4" fill="#000" textLength="32.2" lengthAdjust="spacingAndGlyphs">0.750</text>
<circle cx="1092.3" cy="1174.8" r="3.9" fill="#fff" stroke="#000" stroke-width="2.1"/>
<text x="816.4" y="1179.4" font-family='"Liberation Sans", Arial, sans-serif' font-size="13.4" fill="#000" textLength="158.6" lengthAdjust="spacingAndGlyphs">HOTEL EFFICIENCY RATIO</text>
<circle cx="808" cy="698.7" r="4.6" fill="#fff" stroke="#000" stroke-width="2.2"/>
<circle cx="846.2" cy="698.7" r="4.6" fill="#fff" stroke="#000" stroke-width="2.2"/>
<rect x="808.5" y="688" width="37.3" height="23.3" rx="2.5" fill="#fff95d" stroke="#2c2b18" stroke-width="1.1"/>
<text x="822.2" y="702.6" text-anchor="middle" font-family='"Liberation Mono", "Courier New", monospace' font-size="13" fill="#1c2a08">1</text>
<circle cx="1621.4" cy="179.7" r="4.6" fill="#fff" stroke="#000" stroke-width="2.2"/>
<circle cx="1916.5" cy="179.7" r="4.6" fill="#fff" stroke="#000" stroke-width="2.2"/>
<g clip-path="url(#clipP116)">
<rect x="1621.2" y="116.1" width="295.5" height="127.5" fill="#fff95d"/>
<rect x="1621.2" y="116.1" width="295.5" height="23.2" fill="#cfc84b"/>
<rect x="1621.2" y="117.3" width="295.5" height="1.2" fill="#f1ecb0"/>
<rect x="1621.2" y="139.3" width="295.5" height="23.9" fill="url(#gPHead)"/>
<rect x="1621.2" y="139.3" width="18" height="104.3" fill="rgba(255,255,255,0.04)"/>
<rect x="1638.9" y="139.3" width="0.9" height="104.3" fill="rgba(120,115,40,0.45)"/>
<rect x="1621.2" y="138.4" width="295.5" height="1.5" fill="#2b2a10"/>
</g>
<rect x="1621.8" y="116.7" width="294.3" height="126.3" rx="3.5" fill="none" stroke="#45442c" stroke-width="1.3"/>
<text x="1768.65" y="131.7" text-anchor="middle" font-family='"Liberation Sans", Arial, sans-serif' font-size="13.6" fill="#111" textLength="103.9" lengthAdjust="spacingAndGlyphs">ALLOWABLE ZFA</text>
<text x="1899.6" y="152.9" text-anchor="end" font-family='"Liberation Mono", "Courier New", monospace' font-size="13.6" fill="#2f4b0a">{0}</text>
<text x="1626.9" y="175.8" font-family='"Liberation Mono", "Courier New", monospace' font-size="13.6" fill="#2f4b0a">0 162268</text>
<circle cx="1621.4" cy="314.8" r="4.6" fill="#fff" stroke="#000" stroke-width="2.2"/>
<circle cx="1916.5" cy="314.8" r="4.6" fill="#fff" stroke="#000" stroke-width="2.2"/>
<g clip-path="url(#clipP266)">
<rect x="1621.2" y="266.3" width="295.5" height="98.2" fill="#fff95d"/>
<rect x="1621.2" y="266.3" width="295.5" height="23.1" fill="#cfc84b"/>
<rect x="1621.2" y="267.5" width="295.5" height="1.2" fill="#f1ecb0"/>
<rect x="1621.2" y="289.4" width="295.5" height="23.9" fill="url(#gPHead)"/>
<rect x="1621.2" y="289.4" width="18" height="75.1" fill="rgba(255,255,255,0.04)"/>
<rect x="1638.9" y="289.4" width="0.9" height="75.1" fill="rgba(120,115,40,0.45)"/>
<rect x="1621.2" y="288.5" width="295.5" height="1.5" fill="#2b2a10"/>
</g>
<rect x="1621.8" y="266.9" width="294.3" height="97" rx="3.5" fill="none" stroke="#45442c" stroke-width="1.3"/>
<text x="1768.65" y="281.85" text-anchor="middle" font-family='"Liberation Sans", Arial, sans-serif' font-size="13.6" fill="#111" textLength="129.8" lengthAdjust="spacingAndGlyphs">ZFA NOT TO EXCEED</text>
<text x="1899.6" y="303" text-anchor="end" font-family='"Liberation Mono", "Courier New", monospace' font-size="13.6" fill="#2f4b0a">{0}</text>
<text x="1626.9" y="325.9" font-family='"Liberation Mono", "Courier New", monospace' font-size="13.6" fill="#2f4b0a">0 162268</text>
<circle cx="1621.4" cy="484.9" r="4.6" fill="#fff" stroke="#000" stroke-width="2.2"/>
<circle cx="1916.5" cy="484.9" r="4.6" fill="#fff" stroke="#000" stroke-width="2.2"/>
<g clip-path="url(#clipP421)">
<rect x="1621.2" y="421" width="295.5" height="127.5" fill="#fff95d"/>
<rect x="1621.2" y="421" width="295.5" height="22.4" fill="#cfc84b"/>
<rect x="1621.2" y="422.2" width="295.5" height="1.2" fill="#f1ecb0"/>
<rect x="1621.2" y="443.4" width="295.5" height="24.3" fill="url(#gPHead)"/>
<rect x="1621.2" y="443.4" width="18" height="105.1" fill="rgba(255,255,255,0.04)"/>
<rect x="1638.9" y="443.4" width="0.9" height="105.1" fill="rgba(120,115,40,0.45)"/>
<rect x="1621.2" y="442.5" width="295.5" height="1.5" fill="#2b2a10"/>
</g>
<rect x="1621.8" y="421.6" width="294.3" height="126.3" rx="3.5" fill="none" stroke="#45442c" stroke-width="1.3"/>
<text x="1768.65" y="436.2" text-anchor="middle" font-family='"Liberation Sans", Arial, sans-serif' font-size="13.6" fill="#111" textLength="171.2" lengthAdjust="spacingAndGlyphs">TOTAL GROSS FLOOR AREA</text>
<text x="1899.6" y="457" text-anchor="end" font-family='"Liberation Mono", "Courier New", monospace' font-size="13.6" fill="#2f4b0a">{0}</text>
<text x="1626.9" y="480.3" font-family='"Liberation Mono", "Courier New", monospace' font-size="13.6" fill="#2f4b0a">0 102337</text>
<circle cx="1621.4" cy="636.5" r="4.6" fill="#fff" stroke="#000" stroke-width="2.2"/>
<circle cx="1916.5" cy="636.5" r="4.6" fill="#fff" stroke="#000" stroke-width="2.2"/>
<g clip-path="url(#clipP572)">
<rect x="1621.2" y="572.7" width="295.5" height="127.5" fill="#fff95d"/>
<rect x="1621.2" y="572.7" width="295.5" height="22.6" fill="#cfc84b"/>
<rect x="1621.2" y="573.9" width="295.5" height="1.2" fill="#f1ecb0"/>
<rect x="1621.2" y="595.3" width="295.5" height="24.5" fill="url(#gPHead)"/>
<rect x="1621.2" y="595.3" width="18" height="104.9" fill="rgba(255,255,255,0.04)"/>
<rect x="1638.9" y="595.3" width="0.9" height="104.9" fill="rgba(120,115,40,0.45)"/>
<rect x="1621.2" y="594.4" width="295.5" height="1.5" fill="#2b2a10"/>
</g>
<rect x="1621.8" y="573.3" width="294.3" height="126.3" rx="3.5" fill="none" stroke="#45442c" stroke-width="1.3"/>
<text x="1768.65" y="588" text-anchor="middle" font-family='"Liberation Sans", Arial, sans-serif' font-size="13.6" fill="#111" textLength="181" lengthAdjust="spacingAndGlyphs">TOTAL ZONING FLOOR AREA</text>
<text x="1899.6" y="608.9" text-anchor="end" font-family='"Liberation Mono", "Courier New", monospace' font-size="13.6" fill="#2f4b0a">{0}</text>
<text x="1626.9" y="632.4" font-family='"Liberation Mono", "Courier New", monospace' font-size="13.6" fill="#2f4b0a">0 98400.961538</text>
<circle cx="1621.4" cy="896.7" r="4.6" fill="#fff" stroke="#000" stroke-width="2.2"/>
<circle cx="1916.5" cy="896.7" r="4.6" fill="#fff" stroke="#000" stroke-width="2.2"/>
<g clip-path="url(#clipP799)">
<rect x="1621.2" y="799.6" width="295.5" height="193.7" fill="#fff95d"/>
<rect x="1621.2" y="799.6" width="295.5" height="23" fill="#cfc84b"/>
<rect x="1621.2" y="800.8" width="295.5" height="1.2" fill="#f1ecb0"/>
<rect x="1621.2" y="822.6" width="295.5" height="24" fill="url(#gPHead)"/>
<rect x="1621.2" y="867.4" width="295.5" height="23.9" fill="#d8d352"/>
<rect x="1621.2" y="867.4" width="295.5" height="1" fill="#b9b345"/>
<rect x="1621.2" y="911.5" width="295.5" height="24.3" fill="#d8d352"/>
<rect x="1621.2" y="911.5" width="295.5" height="1" fill="#b9b345"/>
<rect x="1621.2" y="822.6" width="18" height="170.7" fill="rgba(255,255,255,0.04)"/>
<rect x="1638.9" y="822.6" width="0.9" height="170.7" fill="rgba(120,115,40,0.45)"/>
<rect x="1621.2" y="821.7" width="295.5" height="1.5" fill="#2b2a10"/>
</g>
<rect x="1621.8" y="800.2" width="294.3" height="192.5" rx="3.5" fill="none" stroke="#45442c" stroke-width="1.3"/>
<text x="1768.65" y="815.1" text-anchor="middle" font-family='"Liberation Sans", Arial, sans-serif' font-size="13.6" fill="#111" textLength="216.5" lengthAdjust="spacingAndGlyphs">GROSS FLOOR AREA BY PROGRAM</text>
<text x="1899.6" y="836.2" text-anchor="end" font-family='"Liberation Mono", "Courier New", monospace' font-size="13.6" fill="#2f4b0a">{0;0}</text>
<text x="1626.9" y="859.2" font-family='"Liberation Mono", "Courier New", monospace' font-size="13.6" fill="#2f4b0a">0 19972</text>
<text x="1899.6" y="881" text-anchor="end" font-family='"Liberation Mono", "Courier New", monospace' font-size="13.6" fill="#2f4b0a">{0;1}</text>
<text x="1626.9" y="903.9" font-family='"Liberation Mono", "Courier New", monospace' font-size="13.6" fill="#2f4b0a">0 32479</text>
<text x="1899.6" y="925.1" text-anchor="end" font-family='"Liberation Mono", "Courier New", monospace' font-size="13.6" fill="#2f4b0a">{0;2}</text>
<text x="1626.9" y="948.4" font-family='"Liberation Mono", "Courier New", monospace' font-size="13.6" fill="#2f4b0a">0 49886</text>
<circle cx="1621.4" cy="1103" r="4.6" fill="#fff" stroke="#000" stroke-width="2.2"/>
<circle cx="1916.5" cy="1103" r="4.6" fill="#fff" stroke="#000" stroke-width="2.2"/>
<g clip-path="url(#clipP1006)">
<rect x="1621.2" y="1006.4" width="295.5" height="193.4" fill="#fff95d"/>
<rect x="1621.2" y="1006.4" width="295.5" height="22.5" fill="#cfc84b"/>
<rect x="1621.2" y="1007.6" width="295.5" height="1.2" fill="#f1ecb0"/>
<rect x="1621.2" y="1028.9" width="295.5" height="23.9" fill="url(#gPHead)"/>
<rect x="1621.2" y="1073.6" width="295.5" height="24" fill="#d8d352"/>
<rect x="1621.2" y="1073.6" width="295.5" height="1" fill="#b9b345"/>
<rect x="1621.2" y="1118.4" width="295.5" height="24" fill="#d8d352"/>
<rect x="1621.2" y="1118.4" width="295.5" height="1" fill="#b9b345"/>
<rect x="1621.2" y="1028.9" width="18" height="170.9" fill="rgba(255,255,255,0.04)"/>
<rect x="1638.9" y="1028.9" width="0.9" height="170.9" fill="rgba(120,115,40,0.45)"/>
<rect x="1621.2" y="1028" width="295.5" height="1.5" fill="#2b2a10"/>
</g>
<rect x="1621.8" y="1007" width="294.3" height="192.2" rx="3.5" fill="none" stroke="#45442c" stroke-width="1.3"/>
<text x="1768.65" y="1021.65" text-anchor="middle" font-family='"Liberation Sans", Arial, sans-serif' font-size="13.6" fill="#111" textLength="197.9" lengthAdjust="spacingAndGlyphs">NET FLOOR AREA BY PROGRAM</text>
<text x="1899.6" y="1042.5" text-anchor="end" font-family='"Liberation Mono", "Courier New", monospace' font-size="13.6" fill="#2f4b0a">{0;0}</text>
<text x="1626.9" y="1065.4" font-family='"Liberation Mono", "Courier New", monospace' font-size="13.6" fill="#2f4b0a">0 17974.8</text>
<text x="1899.6" y="1087.2" text-anchor="end" font-family='"Liberation Mono", "Courier New", monospace' font-size="13.6" fill="#2f4b0a">{0;1}</text>
<text x="1626.9" y="1110.2" font-family='"Liberation Mono", "Courier New", monospace' font-size="13.6" fill="#2f4b0a">0 27607.15</text>
<text x="1899.6" y="1132" text-anchor="end" font-family='"Liberation Mono", "Courier New", monospace' font-size="13.6" fill="#2f4b0a">{0;2}</text>
<text x="1626.9" y="1155" font-family='"Liberation Mono", "Courier New", monospace' font-size="13.6" fill="#2f4b0a">0 37414.5</text>
<circle cx="1621.4" cy="1305.3" r="4.6" fill="#fff" stroke="#000" stroke-width="2.2"/>
<circle cx="1916.5" cy="1305.3" r="4.6" fill="#fff" stroke="#000" stroke-width="2.2"/>
<g clip-path="url(#clipP1212)">
<rect x="1621.2" y="1212.7" width="295.5" height="187.4" fill="#fff95d"/>
<rect x="1621.2" y="1212.7" width="295.5" height="22.5" fill="#cfc84b"/>
<rect x="1621.2" y="1213.9" width="295.5" height="1.2" fill="#f1ecb0"/>
<rect x="1621.2" y="1235.2" width="295.5" height="24.3" fill="url(#gPHead)"/>
<rect x="1621.2" y="1280" width="295.5" height="24.3" fill="#d8d352"/>
<rect x="1621.2" y="1280" width="295.5" height="1" fill="#b9b345"/>
<rect x="1621.2" y="1324.8" width="295.5" height="24" fill="#d8d352"/>
<rect x="1621.2" y="1324.8" width="295.5" height="1" fill="#b9b345"/>
<rect x="1621.2" y="1235.2" width="18" height="164.9" fill="rgba(255,255,255,0.04)"/>
<rect x="1638.9" y="1235.2" width="0.9" height="164.9" fill="rgba(120,115,40,0.45)"/>
<rect x="1621.2" y="1234.3" width="295.5" height="1.5" fill="#2b2a10"/>
</g>
<rect x="1621.8" y="1213.3" width="294.3" height="186.2" rx="3.5" fill="none" stroke="#45442c" stroke-width="1.3"/>
<text x="1768.65" y="1227.95" text-anchor="middle" font-family='"Liberation Sans", Arial, sans-serif' font-size="13.6" fill="#111" textLength="142.6" lengthAdjust="spacingAndGlyphs">TARGET SQ FOOTAGES</text>
<text x="1899.6" y="1248.8" text-anchor="end" font-family='"Liberation Mono", "Courier New", monospace' font-size="13.6" fill="#2f4b0a">{0;0}</text>
<text x="1626.9" y="1272.1" font-family='"Liberation Mono", "Courier New", monospace' font-size="13.6" fill="#2f4b0a">0 90000</text>
<text x="1899.6" y="1293.6" text-anchor="end" font-family='"Liberation Mono", "Courier New", monospace' font-size="13.6" fill="#2f4b0a">{0;1}</text>
<text x="1626.9" y="1316.9" font-family='"Liberation Mono", "Courier New", monospace' font-size="13.6" fill="#2f4b0a">0 150000</text>
<text x="1899.6" y="1338.4" text-anchor="end" font-family='"Liberation Mono", "Courier New", monospace' font-size="13.6" fill="#2f4b0a">{0;2}</text>
<text x="1626.9" y="1361.4" font-family='"Liberation Mono", "Courier New", monospace' font-size="13.6" fill="#2f4b0a">0 60000</text>
<g filter="url(#ds)">
<path fill-rule="evenodd" fill="#fc4244" d="M1554 78H1974V390H1554Z M1564 88H1964V380H1564Z"/>
<path fill-rule="evenodd" fill="#63228b" d="M1554.2 403.5H1974.1V735.6H1554.2Z M1564.2 413.5H1964.1V725.6H1564.2Z"/>
<path fill-rule="evenodd" fill="#06b092" d="M1553.2 760.3H1974.1V1415H1553.2Z M1563.2 770.3H1964.1V1405H1563.2Z"/>
<polygon fill="#fc4244" points="1423.52,195.13 1508.07,240.38 1500.59,246.3 1532.5,247.5 1513.8,221.61 1513.02,231.12 1428.48,185.87"/>
<rect x="1215.2" y="77" width="222.8" height="119.8" rx="3.5" fill="#fc4244"/>
<text x="1325.6" y="143.2" text-anchor="middle" font-family='"Liberation Sans", Arial, sans-serif' font-size="19.3" fill="#fff" textLength="130.8" lengthAdjust="spacingAndGlyphs">ZONING DATA</text>
<polygon fill="#63228b" points="1379.56,479.85 1451.22,517.55 1443.78,523.53 1475.7,524.5 1456.82,498.75 1456.11,508.26 1384.44,470.55"/>
<rect x="1198.2" y="377.9" width="194.8" height="103.1" rx="3.5" fill="#63228b"/>
<text x="1294.6" y="425.3" text-anchor="middle" font-family='"Liberation Sans", Arial, sans-serif' font-size="19.3" fill="#fff" textLength="91.5" lengthAdjust="spacingAndGlyphs">CURRENT</text>
<text x="1294.6" y="447.2" text-anchor="middle" font-family='"Liberation Sans", Arial, sans-serif' font-size="19.3" fill="#fff" textLength="170.8" lengthAdjust="spacingAndGlyphs">BUILDING TOTALS</text>
<polygon fill="#06b092" points="1430.69,777.27 1511,819.88 1506.44,823.58 1525.3,824.3 1514.13,809.09 1513.63,814.94 1433.31,772.33"/>
<rect x="1228.2" y="667.9" width="211.9" height="114.2" rx="6" fill="#06b092"/>
<text x="1333.15" y="719.9" text-anchor="middle" font-family='"Liberation Sans", Arial, sans-serif' font-size="19.3" fill="#fff" textLength="173" lengthAdjust="spacingAndGlyphs">CURRENT TOTALS</text>
<text x="1333.15" y="742.1" text-anchor="middle" font-family='"Liberation Sans", Arial, sans-serif' font-size="19.3" fill="#fff" textLength="127.5" lengthAdjust="spacingAndGlyphs">BY PROGRAM</text>
</g>
</svg>
</body></html>
